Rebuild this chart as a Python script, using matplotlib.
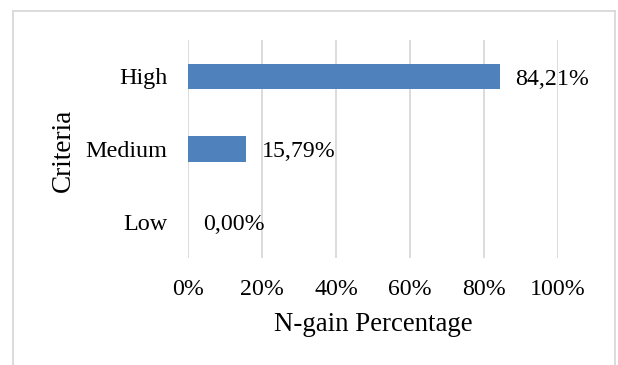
import matplotlib
matplotlib.use("Agg")
import matplotlib.pyplot as plt
from matplotlib.lines import Line2D

categories = ["Low", "Medium", "High"]
values = [0.00, 15.79, 84.21]
value_labels = ["0,00%", "15,79%", "84,21%"]
xticks = [0, 20, 40, 60, 80, 100]
xtick_labels = ["0%", "20%", "40%", "60%", "80%", "100%"]

plt.rcParams["font.family"] = ["Liberation Serif", "DejaVu Serif"]

W, H = 618, 365
fig = plt.figure(figsize=(W / 100, H / 100), dpi=100)
ax = fig.add_axes([188 / W, 1 - 258 / H, (558 - 188) / W, (258 - 40) / H])

ax.barh(range(len(categories)), values, height=0.35, color="#4F81BD", zorder=3)
for i, (v, lab) in enumerate(zip(values, value_labels)):
    ax.annotate(lab, (v, i), xytext=(11, -2), textcoords="offset points",
                va="center", ha="left", fontsize=17.2, color="black")

ax.set_xlim(0, 100)
ax.set_ylim(-0.5, 2.5)
ax.set_xticks(xticks)
ax.set_xticklabels(xtick_labels, fontsize=17.2)
ax.set_yticks(range(len(categories)))
ax.set_yticklabels(categories, fontsize=17.4)
ax.tick_params(axis="both", length=0)
ax.tick_params(axis="x", pad=15)
ax.tick_params(axis="y", pad=15)
ax.grid(axis="x", color="#D9D9D9", linewidth=1.3, zorder=0)
for s in ax.spines.values():
    s.set_visible(False)

ax.set_xlabel("N-gain Percentage", fontsize=19.4, labelpad=9)
fig.text(63 / W, 1 - 150 / H, "Criteria", rotation=90, fontsize=19.6,
         ha="center", va="center")

# outer chart frame
frame_kw = dict(color="#D9D9D9", linewidth=1.3, transform=fig.transFigure)
fig.add_artist(Line2D([13 / W, 13 / W], [0, 1 - 11 / H], **frame_kw))
fig.add_artist(Line2D([13 / W, 615 / W], [1 - 11 / H, 1 - 11 / H], **frame_kw))
fig.add_artist(Line2D([615 / W, 615 / W], [0, 1 - 11 / H], **frame_kw))

fig.savefig("out.png", dpi=100)
